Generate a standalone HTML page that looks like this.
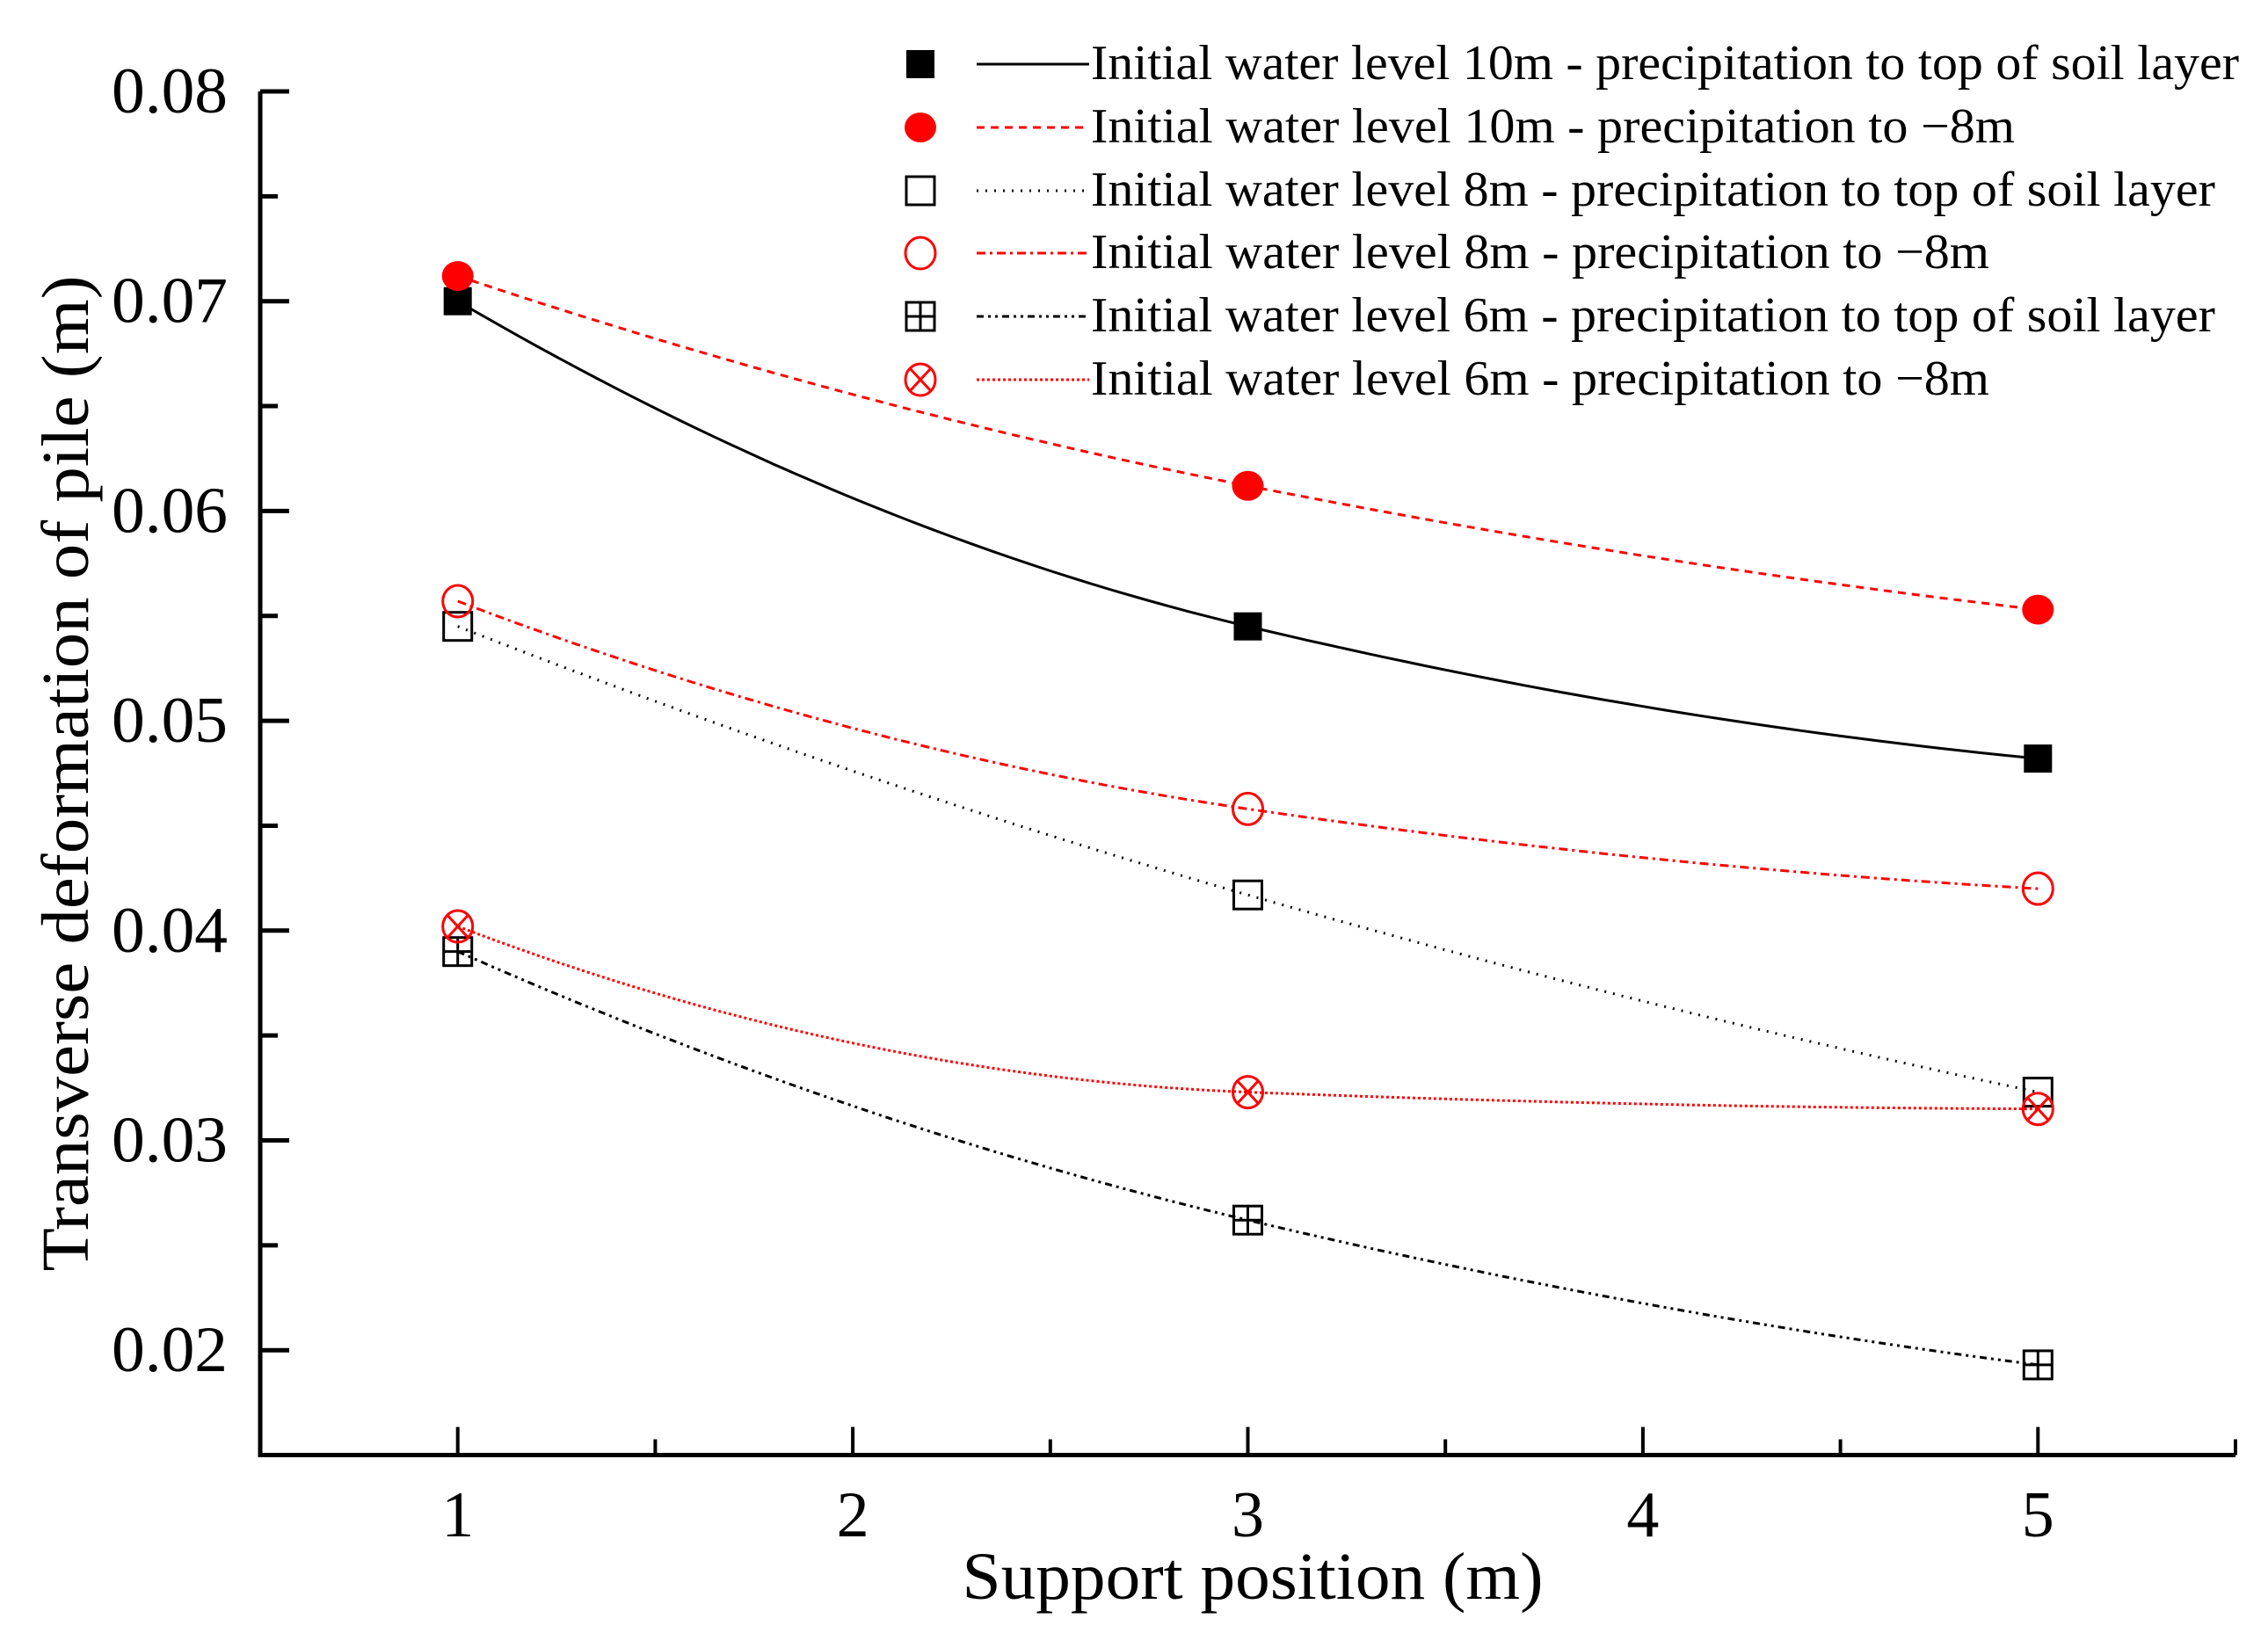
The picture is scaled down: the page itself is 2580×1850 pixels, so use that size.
<!DOCTYPE html>
<html><head><meta charset="utf-8"><style>
html,body{margin:0;padding:0;background:#fff;}
svg{display:block;font-family:"Liberation Serif","Times New Roman",serif;}
</style></head><body>
<svg id="chart" width="2580" height="1850" viewBox="0 0 2580 1850" xmlns="http://www.w3.org/2000/svg">
<g id="axes"></g>
<g id="series"></g>
<g id="legend"></g>
<text x="1425" y="1819" font-size="76" text-anchor="middle" textLength="661" lengthAdjust="spacingAndGlyphs">Support position (m)</text>
<text transform="translate(100,880) rotate(-90)" font-size="76" text-anchor="middle" textLength="1133" lengthAdjust="spacingAndGlyphs">Transverse deformation of pile (m)</text>
</svg>
<script>
const categories = [1, 3, 5];
const s1 = [0.0700, 0.0545, 0.0482];
const s2 = [0.0712, 0.0612, 0.0553];
const s3 = [0.0545, 0.0417, 0.0323];
const s4 = [0.0557, 0.0458, 0.0420];
const s5 = [0.0390, 0.0262, 0.0193];
const s6 = [0.0402, 0.0323, 0.0315];
const xTicks = [1, 2, 3, 4, 5];
const xTickLabels = ["1", "2", "3", "4", "5"];
const yTicks = [0.02, 0.03, 0.04, 0.05, 0.06, 0.07, 0.08];
const yTickLabels = ["0.02", "0.03", "0.04", "0.05", "0.06", "0.07", "0.08"];
const seriesNames = [
 "Initial water level 10m - precipitation to top of soil layer",
 "Initial water level 10m - precipitation to \u22128m",
 "Initial water level 8m - precipitation to top of soil layer",
 "Initial water level 8m - precipitation to \u22128m",
 "Initial water level 6m - precipitation to top of soil layer",
 "Initial water level 6m - precipitation to \u22128m"
];

const NS = "http://www.w3.org/2000/svg";
const X0 = 0.5, X1 = 5.5, PX0 = 296, PX1 = 2543;
const Y0 = 0.015, Y1 = 0.08, PY1 = 104, PYPER = 23870;
const sx = v => PX0 + (v - X0) / (X1 - X0) * (PX1 - PX0);
const sy = v => PY1 + (Y1 - v) * PYPER;
function mk(tag, attrs, parent) {
  const e = document.createElementNS(NS, tag);
  for (const k in attrs) e.setAttribute(k, attrs[k]);
  parent.appendChild(e);
  return e;
}
const axes = document.getElementById('axes');
const yb = sy(Y0);
let a = mk('line', {x1: PX0, y1: PY1, x2: PX0, y2: yb + 2.5, stroke: '#000', 'stroke-width': 5}, axes);


a = mk('line', {x1: PX0 - 2.5, y1: yb, x2: PX1, y2: yb, stroke: '#000', 'stroke-width': 5}, axes);


a = mk('line', {x1: PX1, y1: yb, x2: PX1, y2: yb - 18, stroke: '#000', 'stroke-width': 4}, axes);


yTicks.forEach((v, i) => {
  const y = sy(v);
  const t = mk('line', {x1: PX0, y1: y, x2: PX0 + 33, y2: y, stroke: '#000', 'stroke-width': 5}, axes);
  
  
  const lb = mk('text', {x: 259, y: y + 24, 'font-size': 74, 'text-anchor': 'end', textLength: 132, lengthAdjust: 'spacingAndGlyphs'}, axes);
  lb.textContent = yTickLabels[i];
  
  
  if (i > 0) {
    const m = mk('line', {x1: PX0, y1: sy(v - 0.005), x2: PX0 + 20, y2: sy(v - 0.005), stroke: '#000', 'stroke-width': 5}, axes);
    
    
  }
});
xTicks.forEach((v, i) => {
  const x = sx(v);
  const t = mk('line', {x1: x, y1: yb, x2: x, y2: yb - 32, stroke: '#000', 'stroke-width': 4}, axes);
  
  
  const lb = mk('text', {x: x, y: 1748, 'font-size': 74, 'text-anchor': 'middle'}, axes);
  lb.textContent = xTickLabels[i];
  
  
  if (i < xTicks.length - 1) {
    const m = mk('line', {x1: sx(v + 0.5), y1: yb, x2: sx(v + 0.5), y2: yb - 18, stroke: '#000', 'stroke-width': 4}, axes);
    
    
  }
});

const styles = [
  {color: '#000', dash: '', marker: 'fsq'},
  {color: '#f00', dash: '9 7', marker: 'fci'},
  {color: '#000', dash: '2 8', marker: 'osq'},
  {color: '#f00', dash: '10 5 3 5', marker: 'oci'},
  {color: '#000', dash: '8 5 3 5 3 5', marker: 'psq'},
  {color: '#f00', dash: '3 3', marker: 'xci'}
];
const allSeries = [s1, s2, s3, s4, s5, s6];
const sg = document.getElementById('series');
function marker(type, cx, cy, color, parent) {
  const g = mk('g', {}, parent);
  const r = 16;
  if (type === 'fsq') mk('rect', {x: cx - r, y: cy - r, width: 2 * r, height: 2 * r, fill: '#000'}, g);
  if (type === 'fci') mk('ellipse', {cx: cx, cy: cy, rx: 18, ry: 17, fill: '#f00'}, g);
  if (type === 'osq' || type === 'psq') mk('rect', {x: cx - r, y: cy - r, width: 2 * r, height: 2 * r, fill: 'none', stroke: '#000', 'stroke-width': 3}, g);
  if (type === 'psq') {
    mk('line', {x1: cx - r, y1: cy, x2: cx + r, y2: cy, stroke: '#000', 'stroke-width': 3}, g);
    mk('line', {x1: cx, y1: cy - r, x2: cx, y2: cy + r, stroke: '#000', 'stroke-width': 3}, g);
  }
  if (type === 'oci' || type === 'xci') mk('ellipse', {cx: cx, cy: cy, rx: 17, ry: 18, fill: 'none', stroke: '#f00', 'stroke-width': 3}, g);
  if (type === 'xci') {
    mk('line', {x1: cx - 12, y1: cy - 13, x2: cx + 12, y2: cy + 13, stroke: '#f00', 'stroke-width': 3}, g);
    mk('line', {x1: cx + 12, y1: cy - 13, x2: cx - 12, y2: cy + 13, stroke: '#f00', 'stroke-width': 3}, g);
  }
  return g;
}
function hermitePath(xs, ys) {
  const n = xs.length, d = [], m = [];
  for (let i = 0; i < n - 1; i++) d.push((ys[i + 1] - ys[i]) / (xs[i + 1] - xs[i]));
  for (let i = 1; i < n - 1; i++) m[i] = d[i - 1] * d[i] > 0 ? 2 * d[i - 1] * d[i] / (d[i - 1] + d[i]) : 0;
  m[0] = 2 * d[0] - m[1]; if (m[0] * d[0] < 0) m[0] = 0;
  m[n - 1] = 2 * d[n - 2] - m[n - 2]; if (m[n - 1] * d[n - 2] < 0) m[n - 1] = 0;
  let path = '';
  for (let i = 0; i < n - 1; i++) {
    const h = xs[i + 1] - xs[i];
    for (let k = (i ? 1 : 0); k <= 40; k++) {
      const t = k / 40, t2 = t * t, t3 = t2 * t;
      const y = (2 * t3 - 3 * t2 + 1) * ys[i] + (t3 - 2 * t2 + t) * h * m[i] + (-2 * t3 + 3 * t2) * ys[i + 1] + (t3 - t2) * h * m[i + 1];
      const x = xs[i] + h * t;
      path += (path ? 'L' : 'M') + sx(x).toFixed(1) + ' ' + sy(y).toFixed(1);
    }
  }
  return path;
}
allSeries.forEach((vals, si) => {
  const st = styles[si];
  const p = mk('path', {d: hermitePath(categories, vals), fill: 'none', stroke: st.color, 'stroke-width': 3, 'stroke-dasharray': st.dash}, sg);
  
  
  vals.forEach((v, j) => {
    const m = marker(st.marker, sx(categories[j]), sy(v), st.color, sg);
    
    
  });
});

const lg = document.getElementById('legend');
const rowY = [73, 145, 217, 288, 360, 432];
const textEnds = [2547, 2292, 2520, 2263, 2520, 2263];
seriesNames.forEach((name, i) => {
  const st = styles[i];
  const g = mk('g', {}, lg);
  
  
  marker(st.marker, 1047, rowY[i], st.color, g);
  mk('line', {x1: 1111, y1: rowY[i], x2: 1239, y2: rowY[i], stroke: st.color, 'stroke-width': 3, 'stroke-dasharray': st.dash}, g);
  const t = mk('text', {x: 1241, y: rowY[i] + 17, 'font-size': 56, textLength: textEnds[i] - 1241, lengthAdjust: 'spacingAndGlyphs'}, g);
  t.textContent = name;
});
</script>
</body></html>
